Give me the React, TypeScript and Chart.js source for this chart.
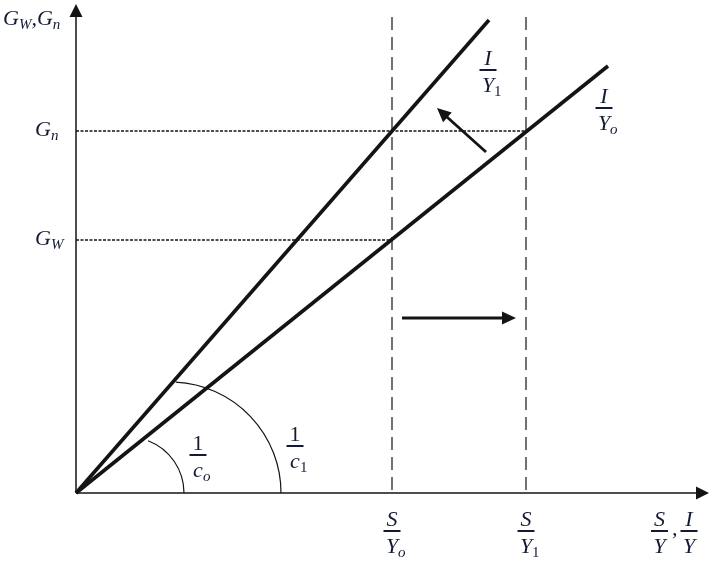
import { useEffect, useRef } from "react";
import { Chart, registerables } from "chart.js";
import type { Plugin } from "chart.js";

Chart.register(...registerables);

// units: 1 unit ~ 10px, origin at the axes corner
const X_MAX = 63.3;
const Y_MAX = 48.9;

const S_OVER_Y = [31.6, 45.0]; // S/Yo, S/Y1
const S_SUBS = ["o", "1"];
const G_LEVELS = [36.2, 25.3]; // Gn, Gw
const G_SUBS = ["n", "W"];
const DASH_TOP = 47.6;

const STEEP_X = [0, 41.3]; // I/Y1
const STEEP_Y = [0, 47.3];
const FLAT_X = [0, 53.2]; // I/Yo
const FLAT_Y = [0, 42.7];
const LINE_SUBS = ["1", "o"];
const LINE_LABEL_AT = [
  [41.2, 42.3],
  [52.8, 38.5],
];

// angle arcs: centre on the x axis, radius, opening angle (deg)
const ARC_CX = [5.2, 9.4];
const ARC_R = [5.6, 11.1];
const ARC_DEG = [69, 87];
const ARC_SUBS = ["o", "1"];
const ARC_LABEL_AT = [
  [12.2, 3.8],
  [21.9, 4.7],
];

const ARROW_FROM = [
  [41.0, 34.1],
  [32.6, 17.5],
];
const ARROW_TO = [
  [36.1, 38.5],
  [44.0, 17.5],
];

const INK = "#141414";
const TEXT = "#141a33";
const SERIF = '"Liberation Serif", "Times New Roman", serif';
const F_MAIN = `italic 22px ${SERIF}`;
const F_UP = `22px ${SERIF}`;
const F_SUB = `italic 15px ${SERIF}`;
const F_SUB_UP = `15px ${SERIF}`;

type Run = { t: string; f: string; dy?: number };

function runsWidth(ctx: CanvasRenderingContext2D, runs: Run[]) {
  let w = 0;
  for (const r of runs) {
    ctx.font = r.f;
    w += ctx.measureText(r.t).width;
  }
  return w;
}

function drawRuns(ctx: CanvasRenderingContext2D, x: number, y: number, runs: Run[]) {
  let cx = x;
  for (const r of runs) {
    ctx.font = r.f;
    ctx.fillText(r.t, cx, y + (r.dy ?? 0));
    cx += ctx.measureText(r.t).width;
  }
}

function sub(s: string): Run {
  return { t: s, f: /\d/.test(s) ? F_SUB_UP : F_SUB, dy: 4 };
}

function frac(ctx: CanvasRenderingContext2D, cx: number, barY: number, num: Run[], den: Run[]) {
  const nw = runsWidth(ctx, num);
  drawRuns(ctx, cx - nw / 2, barY - 5, num);
  ctx.font = den[0].f;
  const mw = ctx.measureText(den[0].t).width;
  drawRuns(ctx, cx - mw / 2, barY + 22, den);
  ctx.fillRect(cx - 8.5, barY - 1, 17, 2);
}

function arrowHead(ctx: CanvasRenderingContext2D, x0: number, y0: number, x1: number, y1: number, len: number, half: number) {
  const a = Math.atan2(y1 - y0, x1 - x0);
  ctx.beginPath();
  ctx.moveTo(x1, y1);
  ctx.lineTo(x1 - len * Math.cos(a) + half * Math.sin(a), y1 - len * Math.sin(a) - half * Math.cos(a));
  ctx.lineTo(x1 - len * Math.cos(a) - half * Math.sin(a), y1 - len * Math.sin(a) + half * Math.cos(a));
  ctx.closePath();
  ctx.fill();
}

const diagram: Plugin<"scatter"> = {
  id: "diagram",
  afterDatasetsDraw(chart) {
    const { ctx } = chart;
    const xs = chart.scales.x;
    const ys = chart.scales.y;
    const px = (v: number) => xs.getPixelForValue(v);
    const py = (v: number) => ys.getPixelForValue(v);
    const ox = px(0);
    const oy = py(0);
    ctx.save();

    // axes with arrow heads
    ctx.strokeStyle = INK;
    ctx.fillStyle = INK;
    ctx.lineWidth = 1.5;
    ctx.beginPath();
    ctx.moveTo(ox, oy);
    ctx.lineTo(ox, py(Y_MAX) + 10);
    ctx.moveTo(ox, oy);
    ctx.lineTo(px(X_MAX) - 10, oy);
    ctx.stroke();
    arrowHead(ctx, ox, oy, ox, py(Y_MAX), 13, 6.5);
    arrowHead(ctx, ox, oy, px(X_MAX), oy, 13, 6.5);

    // angle arcs
    ctx.lineWidth = 1.2;
    ARC_CX.forEach((c, i) => {
      const r = px(c + ARC_R[i]) - px(c);
      ctx.beginPath();
      ctx.arc(px(c), oy, r, (-ARC_DEG[i] * Math.PI) / 180, 0);
      ctx.stroke();
    });

    // shift arrows
    ctx.lineWidth = 2.8;
    ARROW_FROM.forEach((f, i) => {
      const t = ARROW_TO[i];
      const x0 = px(f[0]);
      const y0 = py(f[1]);
      const x1 = px(t[0]);
      const y1 = py(t[1]);
      const a = Math.atan2(y1 - y0, x1 - x0);
      ctx.beginPath();
      ctx.moveTo(x0, y0);
      ctx.lineTo(x1 - 10 * Math.cos(a), y1 - 10 * Math.sin(a));
      ctx.stroke();
      arrowHead(ctx, x0, y0, x1, y1, 14, 6.5);
    });

    // text
    ctx.fillStyle = TEXT;
    ctx.textBaseline = "alphabetic";
    ctx.textAlign = "left";

    drawRuns(ctx, ox - 73, py(Y_MAX) + 21, [
      { t: "G", f: F_MAIN },
      sub("W"),
      { t: ",", f: F_MAIN },
      { t: "G", f: F_MAIN },
      sub("n"),
    ]);
    G_LEVELS.forEach((g, i) => {
      drawRuns(ctx, ox - 41, py(g) + 5, [{ t: "G", f: F_MAIN }, sub(G_SUBS[i])]);
    });

    S_OVER_Y.forEach((s, i) => {
      frac(ctx, px(s), oy + 38, [{ t: "S", f: F_MAIN }], [{ t: "Y", f: F_MAIN }, sub(S_SUBS[i])]);
    });
    const endX = px(X_MAX);
    frac(ctx, endX - 49.5, oy + 38, [{ t: "S", f: F_MAIN }], [{ t: "Y", f: F_MAIN }]);
    drawRuns(ctx, endX - 37, oy + 42, [{ t: ",", f: F_MAIN }]);
    frac(ctx, endX - 20, oy + 38, [{ t: "I", f: F_MAIN }], [{ t: "Y", f: F_MAIN }]);

    LINE_LABEL_AT.forEach((p, i) => {
      frac(ctx, px(p[0]), py(p[1]), [{ t: "I", f: F_MAIN }], [{ t: "Y", f: F_MAIN }, sub(LINE_SUBS[i])]);
    });
    ARC_LABEL_AT.forEach((p, i) => {
      frac(ctx, px(p[0]), py(p[1]), [{ t: "1", f: F_UP }], [{ t: "c", f: F_MAIN }, sub(ARC_SUBS[i])]);
    });

    ctx.restore();
  },
};

function seg(xa: number[], ya: number[]) {
  return xa.map((x, i) => ({ x, y: ya[i] }));
}

export default function App() {
  const ref = useRef<HTMLCanvasElement | null>(null);
  const chartRef = useRef<Chart<"scatter"> | null>(null);

  useEffect(() => {
    if (!ref.current) return;
    chartRef.current?.destroy();

    const solid = { showLine: true, pointRadius: 0, borderColor: INK, clip: false as const };
    const datasets = [
      { ...solid, label: "I/Y1", data: seg(STEEP_X, STEEP_Y), borderWidth: 3.6 },
      { ...solid, label: "I/Yo", data: seg(FLAT_X, FLAT_Y), borderWidth: 3.6 },
      ...S_OVER_Y.map((s, i) => ({
        ...solid,
        label: "S/Y" + S_SUBS[i],
        data: [
          { x: s, y: DASH_TOP },
          { x: s, y: 0 },
        ],
        borderWidth: 1.2,
        borderDash: [13, 7],
      })),
      ...G_LEVELS.map((g, i) => ({
        ...solid,
        label: "G" + G_SUBS[i],
        data: [
          { x: 0, y: g },
          { x: S_OVER_Y[1 - i], y: g },
        ],
        borderWidth: 1.5,
        borderDash: [3, 1.5],
      })),
    ];

    chartRef.current = new Chart(ref.current, {
      type: "scatter",
      data: { datasets },
      options: {
        responsive: false,
        animation: false,
        layout: { padding: { left: 76, right: 7, top: 4, bottom: 70 } },
        plugins: { legend: { display: false }, tooltip: { enabled: false } },
        scales: {
          x: { type: "linear", min: 0, max: X_MAX, display: false },
          y: { type: "linear", min: 0, max: Y_MAX, display: false },
        },
      },
      plugins: [diagram],
    });
    return () => {
      chartRef.current?.destroy();
      chartRef.current = null;
    };
  }, []);

  return (
    <div style={{ position: "absolute", left: 0, top: 0, width: 716, height: 563, background: "#fff" }}>
      <canvas ref={ref} width={716} height={563} style={{ display: "block" }} aria-label="Harrod-Domar growth diagram" />
    </div>
  );
}
